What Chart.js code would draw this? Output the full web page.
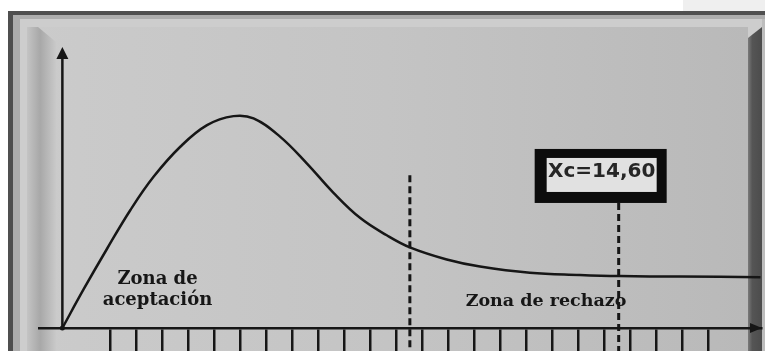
<!DOCTYPE html>
<html>
<head>
<meta charset="utf-8">
<script src="https://cdn.jsdelivr.net/npm/chart.js@4.4.0/dist/chart.umd.min.js"></script>
<style>
  html, body { margin: 0; padding: 0; background: #fff; }
</style>
</head>
<body>
<canvas id="chart" width="765" height="351"></canvas>
<script>
// curve: x in tick spacings from the y axis, y as share of the axis height
const curveX = [0, 0.82, 1.72, 2.62, 3.51, 4.54, 5.57, 6.59, 7.36, 8.38, 9.41, 10.43, 11.46, 12.49, 13.38, 14.8, 16.08, 18.0, 19.92, 21.46, 23.77, 26.88];
const curveY = [0, 0.138, 0.282, 0.42, 0.538, 0.645, 0.722, 0.754, 0.746, 0.681, 0.586, 0.482, 0.392, 0.33, 0.287, 0.244, 0.219, 0.197, 0.189, 0.185, 0.183, 0.181];

// unlabeled tick marks under the axis
const tickPositions = [1.85, 2.85, 3.85, 4.85, 5.85, 6.85, 7.85, 8.85, 9.85, 10.85, 11.85, 12.85,
  13.85, 14.85, 15.85, 16.85, 17.85, 18.85, 19.85, 20.85, 21.85, 22.85, 23.85, 24.85];

// the two dashed lines: critical value and the computed Xc
const criticalX = 13.38;
const criticalTop = 0.544;
const xcX = 21.42;
const xcTop = 0.445;
const lineBottom = -0.09;

const xcLabel = 'Xc=14,60';
const acceptLabel = ['Zona de', 'aceptación'];
const rejectLabel = 'Zona de rechazo';

const ink = '#161616';

const framePlugin = {
  id: 'frame',
  beforeDraw(chart) {
    const ctx = chart.ctx;
    ctx.save();
    ctx.fillStyle = '#ffffff';
    ctx.fillRect(0, 0, 765, 351);
    ctx.fillStyle = '#efefef';
    ctx.fillRect(683, 0, 82, 11);
    // dark outer frame
    ctx.fillStyle = '#4f4f4f';
    ctx.fillRect(8, 11, 757, 340);
    ctx.fillStyle = '#adadad';
    ctx.fillRect(13, 15, 752, 336);
    ctx.fillStyle = '#cdcdcd';
    ctx.fillRect(20, 19, 745, 332);
    // main panel
    let g = ctx.createLinearGradient(27, 0, 748, 0);
    g.addColorStop(0, '#cbcbcb');
    g.addColorStop(0.5, '#c4c4c4');
    g.addColorStop(1, '#b9b9b9');
    ctx.fillStyle = g;
    ctx.fillRect(27, 27, 721, 324);
    // shaded left bevel
    g = ctx.createLinearGradient(27, 0, 56, 0);
    g.addColorStop(0, '#c4c4c4');
    g.addColorStop(0.45, '#a8a8a8');
    g.addColorStop(1, '#c9c9c9');
    ctx.fillStyle = g;
    ctx.beginPath();
    ctx.moveTo(27, 27);
    ctx.lineTo(38, 27);
    ctx.lineTo(56, 42);
    ctx.lineTo(56, 351);
    ctx.lineTo(27, 351);
    ctx.closePath();
    ctx.fill();
    // dark right bar
    g = ctx.createLinearGradient(748, 0, 762, 0);
    g.addColorStop(0, '#7a7a7a');
    g.addColorStop(0.3, '#555555');
    g.addColorStop(1, '#4c4c4c');
    ctx.fillStyle = g;
    ctx.beginPath();
    ctx.moveTo(748, 38);
    ctx.lineTo(762, 27);
    ctx.lineTo(762, 351);
    ctx.lineTo(748, 351);
    ctx.closePath();
    ctx.fill();
    ctx.fillStyle = '#bdbdbd';
    ctx.fillRect(762, 19, 3, 332);
    ctx.restore();
  }
};

const decorPlugin = {
  id: 'decor',
  afterDatasetsDraw(chart) {
    const ctx = chart.ctx;
    const xs = chart.scales.x;
    const ys = chart.scales.y;
    const x0 = xs.getPixelForValue(0);
    const yBottom = ys.getPixelForValue(0);
    const yTop = ys.getPixelForValue(1);
    ctx.save();
    ctx.strokeStyle = ink;
    ctx.fillStyle = ink;
    // y axis with arrow
    ctx.lineWidth = 2.5;
    ctx.beginPath();
    ctx.moveTo(x0, yBottom);
    ctx.lineTo(x0, yTop + 10);
    ctx.stroke();
    ctx.beginPath();
    ctx.moveTo(x0, yTop);
    ctx.lineTo(x0 - 6, yTop + 12);
    ctx.lineTo(x0 + 6, yTop + 12);
    ctx.closePath();
    ctx.fill();
    // arrow on the x axis
    const xr = chart.chartArea.right + 1;
    ctx.beginPath();
    ctx.moveTo(xr, yBottom);
    ctx.lineTo(xr - 12, yBottom - 5);
    ctx.lineTo(xr - 12, yBottom + 5);
    ctx.closePath();
    ctx.fill();
    // origin dot
    ctx.beginPath();
    ctx.arc(x0, yBottom, 2.5, 0, Math.PI * 2);
    ctx.fill();

    // zone labels
    ctx.font = 'bold 18px "DejaVu Serif"';
    ctx.textAlign = 'center';
    ctx.textBaseline = 'alphabetic';
    ctx.fillText(acceptLabel[0], 157.5, 284);
    ctx.fillText(acceptLabel[1], 157.5, 305);
    ctx.font = 'bold 17.5px "DejaVu Serif"';
    ctx.fillText(rejectLabel, 546, 306);

    // Xc box
    const xc = xs.getPixelForValue(xcX);
    const boxTop = ys.getPixelForValue(xcTop) - 54;
    ctx.fillStyle = '#0c0c0c';
    ctx.fillRect(xc - 84, boxTop, 132, 54);
    ctx.fillStyle = '#e1e1e1';
    ctx.fillRect(xc - 72, boxTop + 9, 110, 34);
    ctx.fillStyle = '#262626';
    ctx.font = 'bold 20px "DejaVu Sans"';
    ctx.fillText(xcLabel, xc - 17, boxTop + 28);
    ctx.restore();
  }
};

const ctx = document.getElementById('chart').getContext('2d');
const myChart = new Chart(ctx, {
  type: 'line',
  data: {
    datasets: [
      {
        label: 'curva',
        data: curveX.map((x, i) => ({ x: x, y: curveY[i] })),
        borderColor: ink,
        borderWidth: 2.5,
        pointRadius: 0,
        tension: 0.4,
        clip: false
      },
      {
        label: 'valor crítico',
        data: [{ x: criticalX, y: criticalTop }, { x: criticalX, y: lineBottom }],
        borderColor: ink,
        borderWidth: 3,
        borderDash: [7, 4],
        pointRadius: 0,
        clip: false
      },
      {
        label: 'Xc',
        data: [{ x: xcX, y: xcTop }, { x: xcX, y: lineBottom }],
        borderColor: ink,
        borderWidth: 3,
        borderDash: [7, 4],
        pointRadius: 0,
        clip: false
      }
    ]
  },
  options: {
    responsive: false,
    animation: false,
    devicePixelRatio: 1,
    layout: { padding: { left: 39, right: 4, top: 47, bottom: 0 } },
    plugins: {
      legend: { display: false },
      tooltip: { enabled: false }
    },
    scales: {
      x: {
        type: 'linear',
        min: -0.9,
        max: 26.9,
        afterBuildTicks: function(scale) {
          scale.ticks = tickPositions.map(v => ({ value: v }));
        },
        ticks: { display: false },
        grid: {
          drawOnChartArea: false,
          drawTicks: true,
          tickLength: 23,
          color: ink,
          lineWidth: 2.5
        },
        border: { display: true, color: ink, width: 2.5 }
      },
      y: {
        type: 'linear',
        min: 0,
        max: 1,
        display: false
      }
    }
  },
  plugins: [framePlugin, decorPlugin]
});
</script>
</body>
</html>
